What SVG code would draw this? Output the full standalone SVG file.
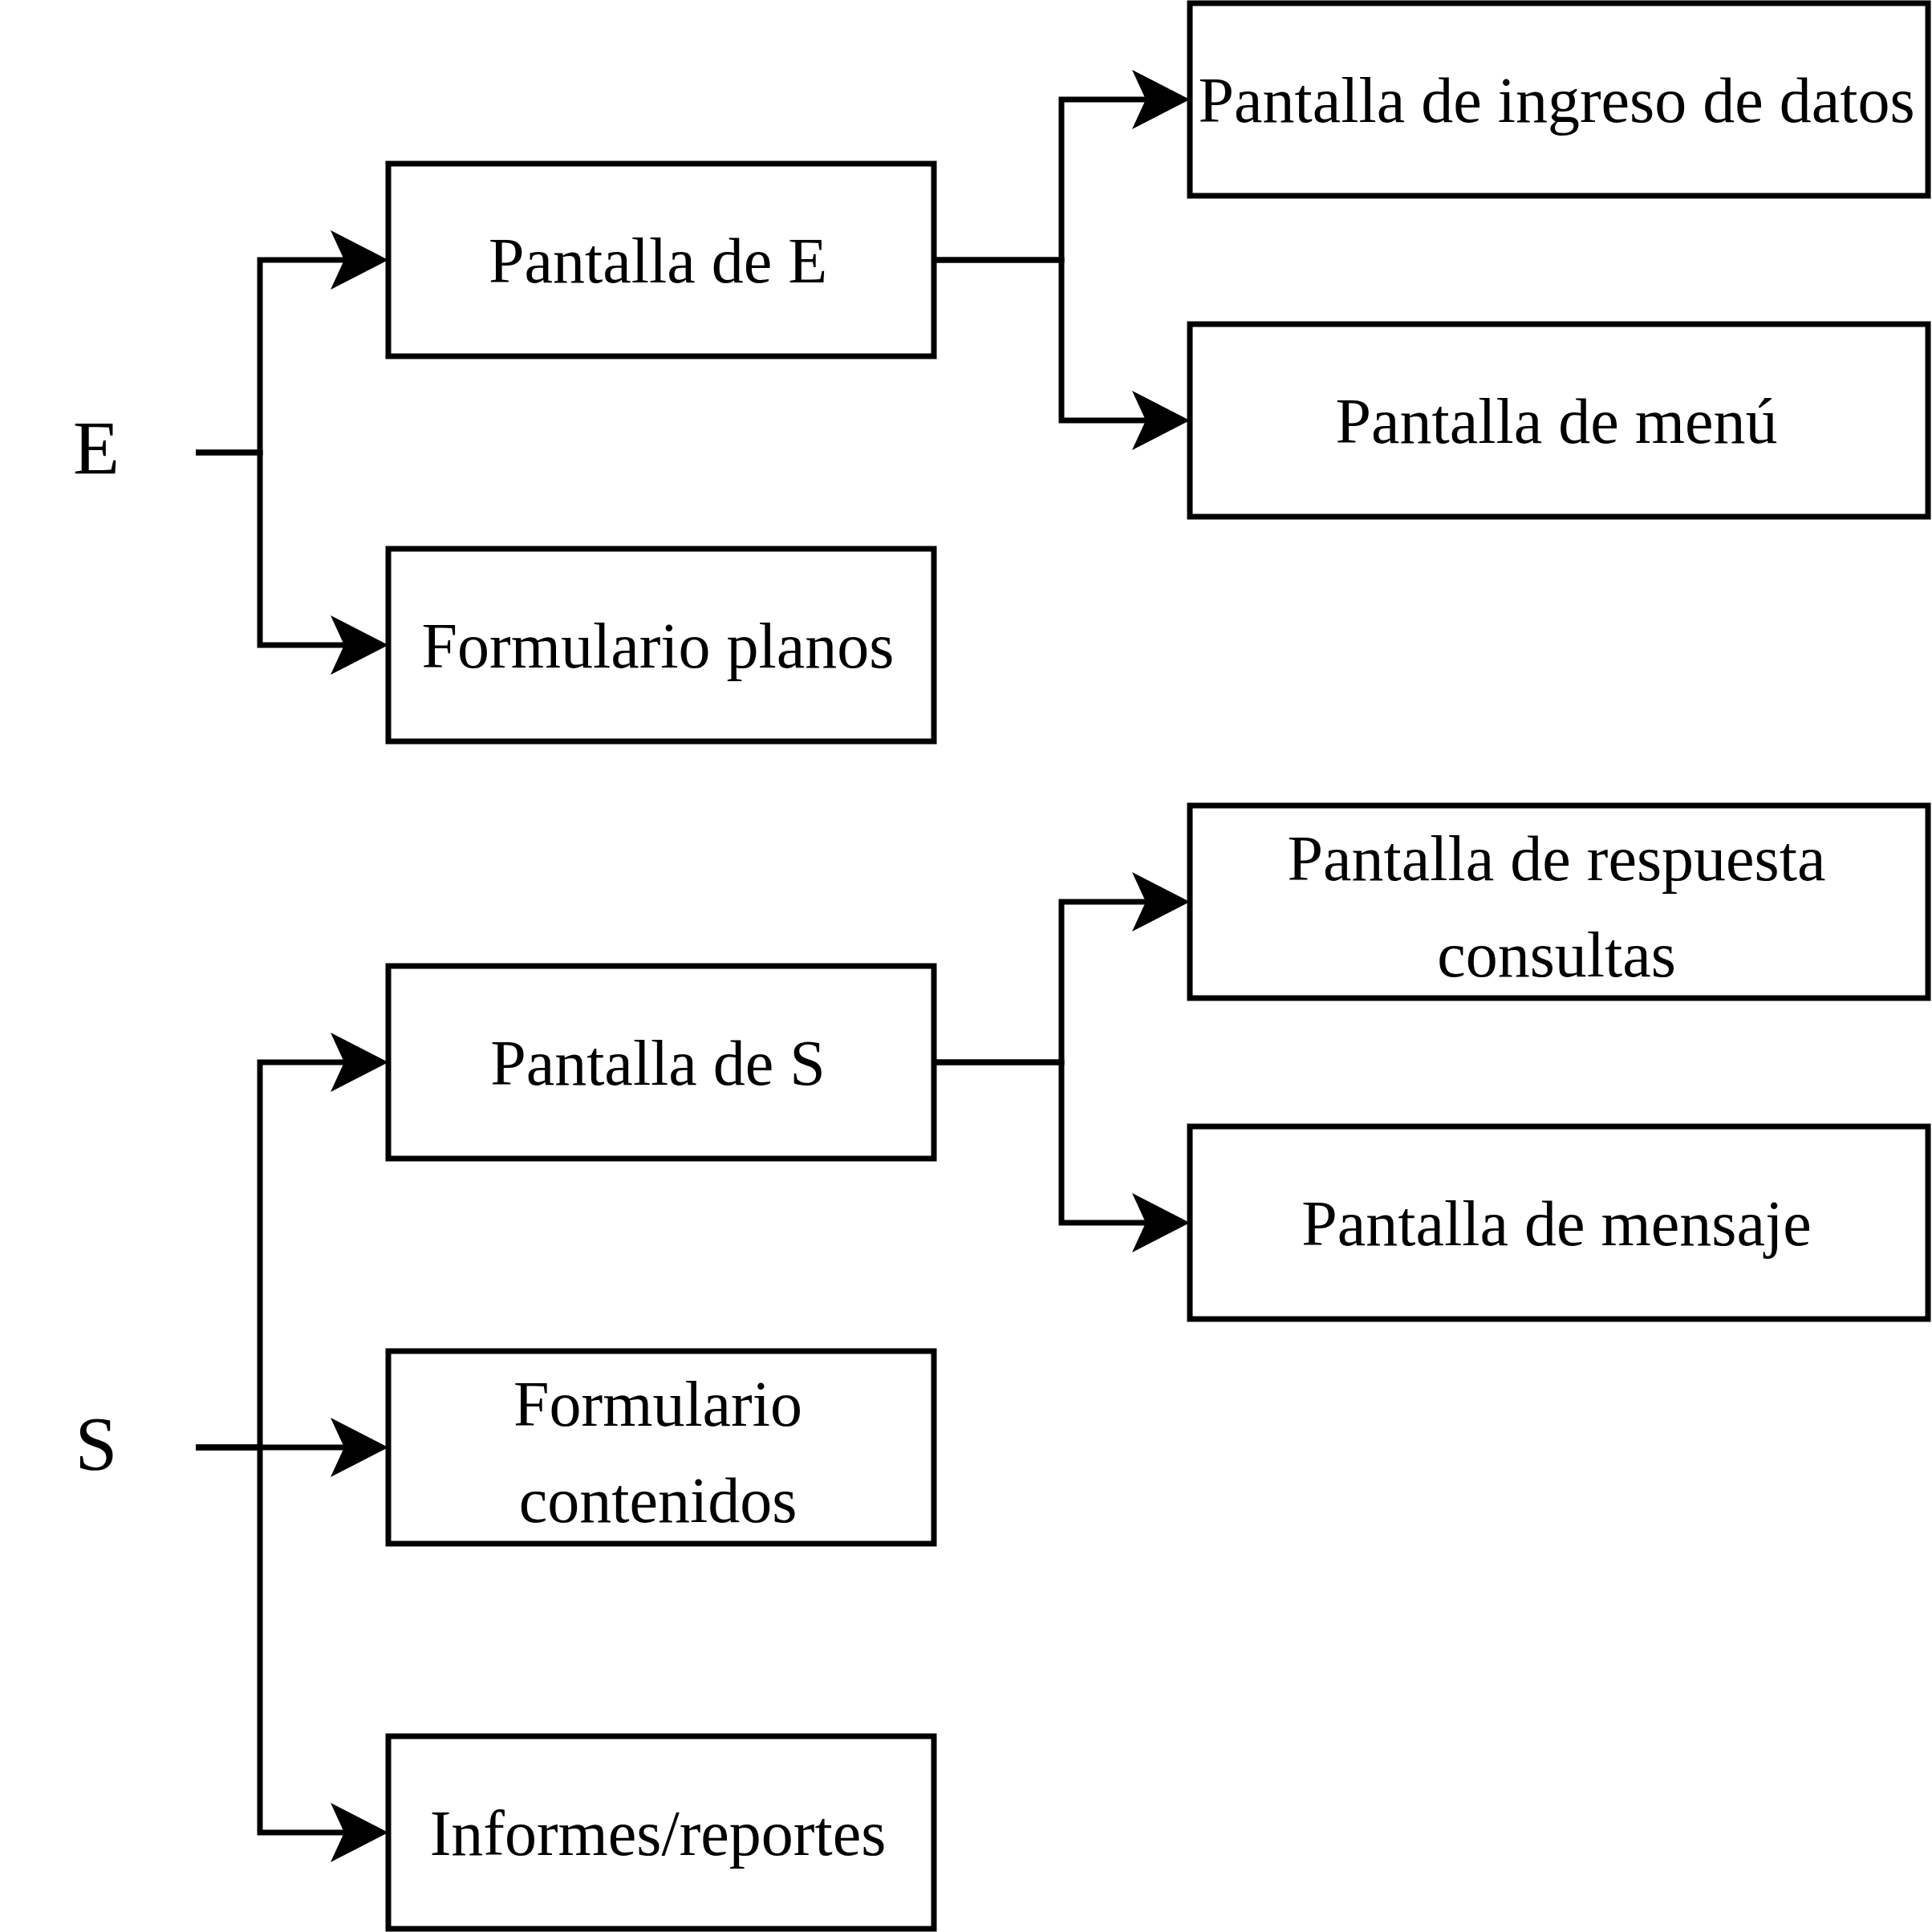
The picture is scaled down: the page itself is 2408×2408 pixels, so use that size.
<svg xmlns="http://www.w3.org/2000/svg" width="2408" height="2408" viewBox="0 0 2408 2408">
<style>
.box{fill:#fff;stroke:#000;stroke-width:7}
.edge{fill:none;stroke:#000;stroke-width:7;stroke-linejoin:miter}
text{font-family:"Liberation Serif","Times New Roman",serif;font-size:80px;fill:#000;text-anchor:middle}
.big{font-size:95px}
</style>
<defs>
<marker id="arr" viewBox="0 0 72 74" refX="17" refY="37" markerWidth="72" markerHeight="74" markerUnits="userSpaceOnUse" orient="auto">
<path d="M0,0 L72,37 L0,74 L17,37 Z" fill="#000"/>
</marker>
</defs>
<rect width="2408" height="2408" fill="#fff"/>
<g id="connectors">
<path class="edge" d="M244 564 H324 V324 H429" marker-end="url(#arr)"/>
<path class="edge" d="M244 564 H324 V804 H429" marker-end="url(#arr)"/>
<path class="edge" d="M1164 324 H1323 V124 H1428" marker-end="url(#arr)"/>
<path class="edge" d="M1164 324 H1323 V524 H1428" marker-end="url(#arr)"/>
<path class="edge" d="M244 1804 H324 V1324 H429" marker-end="url(#arr)"/>
<path class="edge" d="M244 1804 H429" marker-end="url(#arr)"/>
<path class="edge" d="M244 1804 H324 V2284 H429" marker-end="url(#arr)"/>
<path class="edge" d="M1164 1324 H1323 V1124 H1428" marker-end="url(#arr)"/>
<path class="edge" d="M1164 1324 H1323 V1524 H1428" marker-end="url(#arr)"/>
</g>
<g id="E"><text class="big" x="120" y="591">E</text></g>
<g id="S"><text class="big" x="120" y="1832">S</text></g>
<g id="pantallaE"><rect class="box" x="484" y="204" width="680" height="240"/><text x="820" y="352">Pantalla de E</text></g>
<g id="formPlanos"><rect class="box" x="484" y="684" width="680" height="240"/><text x="820" y="832">Formulario planos</text></g>
<g id="pantallaS"><rect class="box" x="484" y="1204" width="680" height="240"/><text x="820" y="1352">Pantalla de S</text></g>
<g id="formContenidos"><rect class="box" x="484" y="1684" width="680" height="240"/><text x="820" y="1777">Formulario</text><text x="820" y="1897">contenidos</text></g>
<g id="informes"><rect class="box" x="484" y="2164" width="680" height="240"/><text x="820" y="2312">Informes/reportes</text></g>
<g id="ingreso"><rect class="box" x="1483" y="4" width="920" height="240"/><text x="1940" y="152">Pantalla de ingreso de datos</text></g>
<g id="menu"><rect class="box" x="1483" y="404" width="920" height="240"/><text x="1940" y="552">Pantalla de menú</text></g>
<g id="respuesta"><rect class="box" x="1483" y="1004" width="920" height="240"/><text x="1940" y="1097">Pantalla de respuesta</text><text x="1940" y="1217">consultas</text></g>
<g id="mensaje"><rect class="box" x="1483" y="1404" width="920" height="240"/><text x="1940" y="1552">Pantalla de mensaje</text></g>
</svg>
